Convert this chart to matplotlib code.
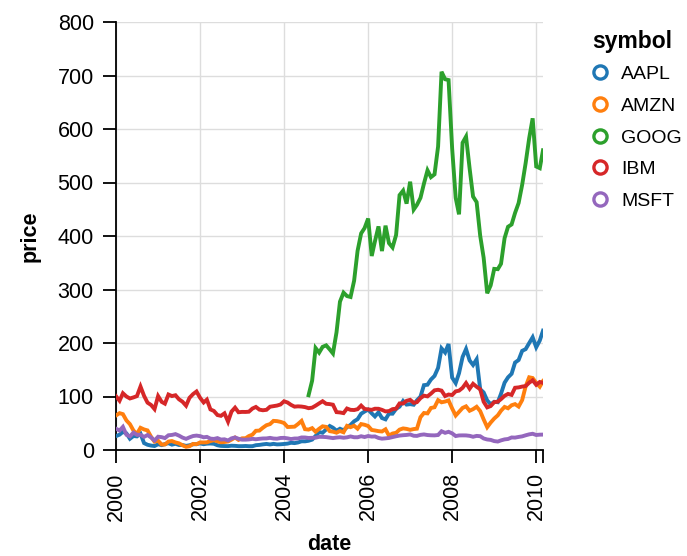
import pandas as pd
import numpy as np
import matplotlib
matplotlib.use("Agg")
import matplotlib.pyplot as plt
from matplotlib.lines import Line2D

# =========================
# DATA (monthly closing prices)
# =========================
symbols = ["AAPL", "AMZN", "GOOG", "IBM", "MSFT"]
colors = ["#1f77b4", "#ff7f0e", "#2ca02c", "#d62728", "#9467bd"]

dates_all = pd.date_range("2000-01-01", "2010-03-01", freq="MS")
dates_goog = pd.date_range("2004-08-01", "2010-03-01", freq="MS")

aapl = [25.94, 28.66, 33.95, 31.01, 21, 26.19, 25.41, 30.47, 12.88, 9.78, 8.25, 7.44,
        10.81, 9.12, 11.03, 12.74, 9.98, 11.62, 9.4, 9.27, 7.76, 8.78, 10.65, 10.95,
        12.36, 10.85, 11.84, 12.14, 11.65, 8.86, 7.63, 7.38, 7.25, 8.03, 7.75, 7.16,
        7.18, 7.51, 7.07, 7.11, 8.98, 9.53, 10.54, 11.31, 10.36, 11.44, 10.45, 10.69,
        11.28, 11.96, 13.52, 12.89, 14.03, 16.27, 16.17, 17.25, 19.38, 26.2, 33.53, 32.2,
        38.45, 44.86, 41.67, 36.06, 39.76, 36.81, 42.65, 46.89, 53.61, 57.59, 67.82, 71.89,
        75.51, 68.49, 62.72, 70.39, 59.77, 57.27, 67.96, 67.85, 76.98, 81.08, 91.66, 84.84,
        85.73, 84.61, 92.91, 99.8, 121.19, 122.04, 131.76, 138.48, 153.47, 189.95, 182.22, 198.08,
        135.36, 125.02, 143.5, 173.95, 188.75, 167.44, 158.95, 169.53, 113.66, 107.59, 92.67, 85.35,
        90.13, 89.31, 105.12, 125.83, 135.81, 142.43, 163.39, 168.21, 185.35, 188.5, 199.91, 210.73,
        192.06, 204.62, 223.02]

amzn = [64.56, 68.87, 67, 55.19, 48.31, 36.31, 30.12, 41.5, 38.44, 36.62, 24.69, 15.56,
        17.31, 10.19, 10.23, 15.78, 16.69, 14.15, 12.49, 8.94, 5.97, 6.98, 11.32, 10.82,
        14.19, 14.1, 14.3, 16.69, 18.23, 16.25, 14.45, 14.94, 15.93, 19.36, 23.35, 18.89,
        21.85, 22.01, 26.03, 28.69, 35.89, 36.32, 41.64, 46.32, 48.43, 54.43, 53.97, 52.62,
        50.4, 43.01, 43.28, 43.6, 48.5, 54.4, 38.92, 38.14, 40.86, 34.13, 39.68, 44.29,
        43.22, 35.18, 34.27, 32.36, 35.51, 33.09, 45.15, 42.7, 45.3, 39.86, 48.46, 47.15,
        44.82, 37.44, 36.53, 35.21, 34.61, 38.68, 26.89, 30.83, 32.12, 38.09, 40.34, 39.46,
        37.67, 39.14, 39.79, 61.33, 69.14, 68.41, 78.54, 79.91, 93.15, 89.15, 90.56, 92.64,
        77.7, 64.47, 71.3, 78.63, 81.62, 73.33, 76.34, 80.81, 72.76, 57.24, 42.7, 51.28,
        58.82, 64.79, 73.44, 80.52, 77.99, 83.66, 85.76, 81.19, 93.36, 118.81, 135.91, 134.52,
        125.41, 118.4, 128.82]

goog = [102.37, 129.6, 190.64, 181.98, 192.79,
        195.62, 187.99, 180.51, 220, 277.27, 294.15, 287.76, 286, 316.46, 372.14, 404.91, 414.86,
        432.66, 362.62, 390, 417.94, 371.82, 419.33, 386.6, 378.53, 401.9, 476.39, 484.81, 460.48,
        501.5, 449.45, 458.16, 471.38, 497.91, 522.7, 510, 515.25, 567.27, 707, 693, 691.48,
        564.3, 471.18, 440.47, 574.29, 585.8, 526.42, 473.75, 463.29, 400.52, 359.36, 292.96, 307.65,
        338.53, 337.99, 348.06, 395.97, 417.23, 421.59, 443.05, 461.67, 495.85, 536.12, 583, 619.98,
        529.94, 526.8, 560.19]

ibm = [100.52, 92.11, 106.11, 99.95, 96.31, 98.33, 100.74, 118.62, 101.19, 88.5, 84.12, 76.47,
       100.76, 89.98, 86.63, 103.7, 100.82, 102.35, 94.87, 90.25, 82.82, 97.58, 104.5, 109.36,
       97.54, 88.82, 94.15, 75.82, 72.97, 65.31, 63.86, 68.52, 53.01, 71.76, 79.16, 70.58,
       71.22, 71.13, 71.57, 77.47, 80.48, 75.42, 74.28, 75.12, 80.91, 81.96, 83.08, 85.05,
       91.06, 88.7, 84.41, 81.04, 81.59, 81.19, 80.19, 78.17, 79.13, 82.84, 87.15, 91.16,
       86.39, 85.78, 84.66, 70.77, 70.18, 68.93, 77.53, 75.07, 74.7, 76.25, 82.98, 76.73,
       75.89, 75.09, 77.17, 77.05, 75.04, 72.15, 72.7, 76.35, 77.26, 87.06, 86.95, 91.9,
       93.79, 88.18, 89.44, 96.98, 101.54, 100.25, 105.4, 111.54, 112.6, 111, 100.9, 103.7,
       102.75, 109.64, 110.87, 116.23, 125.14, 114.6, 123.74, 118.16, 113.53, 90.24, 79.65, 82.15,
       89.46, 90.32, 95.09, 101.29, 104.85, 103.01, 116.34, 117, 118.55, 119.54, 125.79, 130.32,
       121.85, 127.16, 125.55]

msft = [39.81, 36.35, 43.22, 28.37, 25.45, 32.54, 28.4, 28.4, 24.53, 28.02, 23.34, 17.65,
        24.84, 24, 22.25, 27.56, 28.14, 29.7, 26.93, 23.21, 20.82, 23.65, 26.12, 26.95,
        25.92, 23.73, 24.53, 21.26, 20.71, 22.25, 19.52, 19.97, 17.79, 21.75, 23.46, 21.03,
        19.31, 19.34, 19.76, 20.87, 20.09, 20.93, 21.56, 21.65, 22.69, 21.45, 21.1, 22.46,
        22.69, 21.77, 20.46, 21.45, 21.53, 23.44, 23.38, 22.47, 22.76, 23.02, 24.6, 24.52,
        24.11, 23.15, 22.24, 23.28, 23.82, 22.93, 23.64, 25.35, 23.83, 23.8, 25.71, 24.29,
        26.14, 25.04, 25.36, 22.5, 21.19, 21.8, 22.51, 24.13, 25.68, 26.96, 27.66, 28.13,
        29.07, 26.63, 26.35, 28.3, 29.11, 27.95, 27.5, 27.34, 28.04, 35.03, 32.09, 34,
        31.13, 26.07, 27.21, 27.34, 27.25, 26.47, 24.75, 26.36, 25.78, 21.57, 19.66, 18.91,
        16.63, 15.81, 17.99, 19.84, 20.59, 23.42, 23.18, 24.43, 25.49, 27.48, 29.27, 30.34,
        28.05, 28.67, 28.8]

series = {
    "AAPL": (dates_all, aapl),
    "AMZN": (dates_all, amzn),
    "GOOG": (dates_goog, goog),
    "IBM": (dates_all, ibm),
    "MSFT": (dates_all, msft),
}

year_ticks = ["2000", "2002", "2004", "2006", "2008", "2010"]
price_ticks = [0, 100, 200, 300, 400, 500, 600, 700, 800]

# =========================
# PLOT
# =========================
plt.rcParams["font.family"] = ["Liberation Sans", "DejaVu Sans"]

W, H = 687, 556
fig = plt.figure(figsize=(W / 100, H / 100), dpi=100)
ax = fig.add_axes([116 / W, 1 - 450 / H, (543 - 116) / W, (450 - 22) / H])

for sym, col in zip(symbols, colors):
    d, v = series[sym]
    ax.plot(d, v, color=col, linewidth=2.8, solid_joinstyle="miter", zorder=3)

x_start = dates_all[0]
x_end = dates_all[-1]
ax.set_xlim(x_start, x_end)
ax.set_ylim(0, 800)

ax.set_xticks(pd.to_datetime(year_ticks))
ax.set_xticklabels(year_ticks, rotation=90, ha="center", va="top")
ax.set_xticks([x_end], minor=True)
ax.set_yticks(price_ticks)
ax.set_yticklabels([str(p) for p in price_ticks])

ax.grid(True, color="#dddddd", linewidth=1.0, zorder=0)
ax.set_axisbelow(True)
for s in ["top", "right"]:
    ax.spines[s].set_visible(False)
for s in ["left", "bottom"]:
    ax.spines[s].set_color("black")
    ax.spines[s].set_linewidth(1.3)

ax.tick_params(axis="both", which="both", length=9.5, width=1.3, color="black",
               labelsize=15.5, pad=6.5)

ax.set_xlabel("date", fontsize=15.5, fontweight="bold", labelpad=10)
ax.set_ylabel("price", fontsize=15.5, fontweight="bold", labelpad=12)

# legend (symbol -> colour), drawn in figure pixels
fig.text(592 / W, 1 - 48 / H, "symbol", fontsize=16.5, fontweight="bold",
         ha="left", va="baseline")
for i, (sym, col) in enumerate(zip(symbols, colors)):
    yc = 72 + i * 31.75
    fig.add_artist(Line2D([600 / W], [1 - yc / H], transform=fig.transFigure,
                          marker="o", linestyle="none", markersize=9.5,
                          markerfacecolor="none", markeredgecolor=col,
                          markeredgewidth=2.4))
    fig.text(621 / W, 1 - (yc + 7) / H, sym, fontsize=14,
             ha="left", va="baseline")

fig.savefig("out.png", dpi=100)
